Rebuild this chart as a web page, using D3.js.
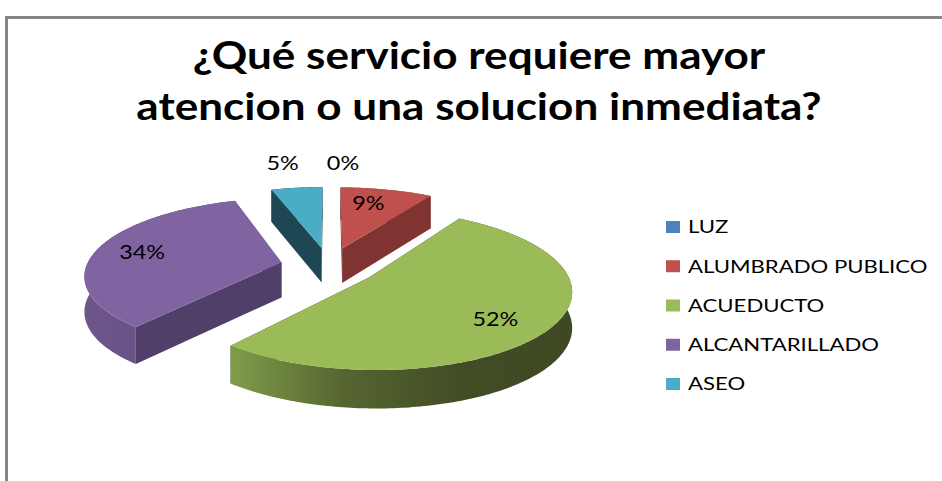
<!DOCTYPE html>
<html><head><meta charset="utf-8">
<style>html,body{margin:0;padding:0;background:#fff;overflow:hidden}svg{display:block}text{font-family:Lato,"Open Sans",sans-serif;fill:#000}</style>
<script src="https://cdnjs.cloudflare.com/ajax/libs/d3/7.8.5/d3.min.js"></script>
</head><body><script>
const titleLines = ["¿Qué servicio requiere mayor","atencion o una solucion inmediata?"];
const categories = ["LUZ","ALUMBRADO PUBLICO","ACUEDUCTO","ALCANTARILLADO","ASEO"];
const values = [0,9,52,34,5];
const colors = ["#4F81BD","#C0504D","#9BBB59","#8064A2","#4BACC6"];
const wallColors = ["#2b4a70","#7f3432","#3f4a24","#503f68","#1f4653"];
const sideStops = [
  ["#2b4a70","#2b4a70"],["#7f3432","#7f3432"],["#7f9c4a","#566530","#424d25","#3e4823"],["#6e568b","#604b7b"],["#1f4653","#1f4653"]];
const labelFrac = [1.47,0.72,0.72,0.72,1.3];
const labelNudge = [[14,0],[-7,-2],[-1,6],[-6,-1],[-8,-10]];

const W=942,H=481;
const cx=329,cy=266,R=195,tilt=0.385,persp=0.15,depth=35,explode=0.25;
const stretchTitle=1.16,stretchText=1.23,stretchLabel=1.17;
const svg=d3.select("body").append("svg").attr("width",W).attr("height",H);
const defs=svg.append("defs");

// frame
svg.append("path").attr("d",`M6.5,${H}V17.5H${W}`).attr("fill","none").attr("stroke","#868686").attr("stroke-width",3);

// title
svg.selectAll("text.title").data(titleLines).join("text").attr("class","title")
  .attr("transform",(d,i)=>`translate(479,${69+i*51}) scale(${stretchTitle},1)`).attr("text-anchor","middle")
  .attr("font-size",38).attr("font-weight",700).text(d=>d);

// projection
const project=(X,Y)=>{const s=1/(1+persp*Y);return {x:cx+R*X*s,y:cy-R*tilt*Y*s,s};};
const drop=p=>({x:p.x,y:p.y+depth*Math.sqrt(p.s)});
const line=d3.line().x(d=>d.x).y(d=>d.y);

const pie=d3.pie().sort(null).value(d=>d).startAngle(0).endAngle(2*Math.PI);
const arcs=pie(values).map((a,i)=>{
  const mid=(a.startAngle+a.endAngle)/2;
  const ox=explode*Math.sin(mid),oy=explode*Math.cos(mid);
  const n=Math.max(2,Math.ceil((a.endAngle-a.startAngle)*60));
  const rim=d3.range(n+1).map(j=>{
    const t=a.startAngle+(a.endAngle-a.startAngle)*j/n;
    return project(ox+Math.sin(t),oy+Math.cos(t));
  });
  return {i,a,mid,ox,oy,rim,apex:project(ox,oy)};
});

const order=arcs.filter(d=>d.a.value>0).sort((p,q)=>q.oy-p.oy);
order.forEach(d=>{
  const g=svg.append("g");
  const gid="side"+d.i;
  const lg=defs.append("linearGradient").attr("id",gid);
  sideStops[d.i].forEach((c,j,arr)=>lg.append("stop").attr("offset",j/(arr.length-1)).attr("stop-color",c));
  const first=d.rim[0],last=d.rim[d.rim.length-1];
  // radial walls
  [first,last].forEach(p=>{
    g.append("path").attr("d",line([d.apex,p,drop(p),drop(d.apex)])+"Z").attr("fill",wallColors[d.i]);
  });
  // outer rim
  g.append("path").attr("d",line(d.rim.concat(d.rim.map(drop).reverse()))+"Z").attr("fill",`url(#${gid})`);
  // top face
  g.append("path").attr("d",line([d.apex].concat(d.rim))+"Z").attr("fill",colors[d.i]);
});

// data labels
arcs.forEach(d=>{
  const f=labelFrac[d.i];
  const p=project(d.ox+f*Math.sin(d.mid),d.oy+f*Math.cos(d.mid));
  svg.append("text")
    .attr("transform",`translate(${p.x+labelNudge[d.i][0]},${p.y+labelNudge[d.i][1]}) scale(${stretchLabel},1)`)
    .attr("dy","0.35em").attr("text-anchor","middle").attr("font-size",20).text(d3.format(".0%")(d.a.value/100));
});

// legend
const ly=d3.scalePoint().domain(categories).range([227,384]);
const lg=svg.selectAll("g.leg").data(categories).join("g").attr("class","leg").attr("transform",d=>`translate(666,${ly(d)})`);
lg.append("rect").attr("x",0).attr("y",-6).attr("width",14).attr("height",12).attr("fill",(d,i)=>colors[i]);
lg.append("text").attr("transform",`translate(22,0) scale(${stretchText},1)`).attr("dy","0.36em").attr("font-size",18).text(d=>d);
</script></body></html>
